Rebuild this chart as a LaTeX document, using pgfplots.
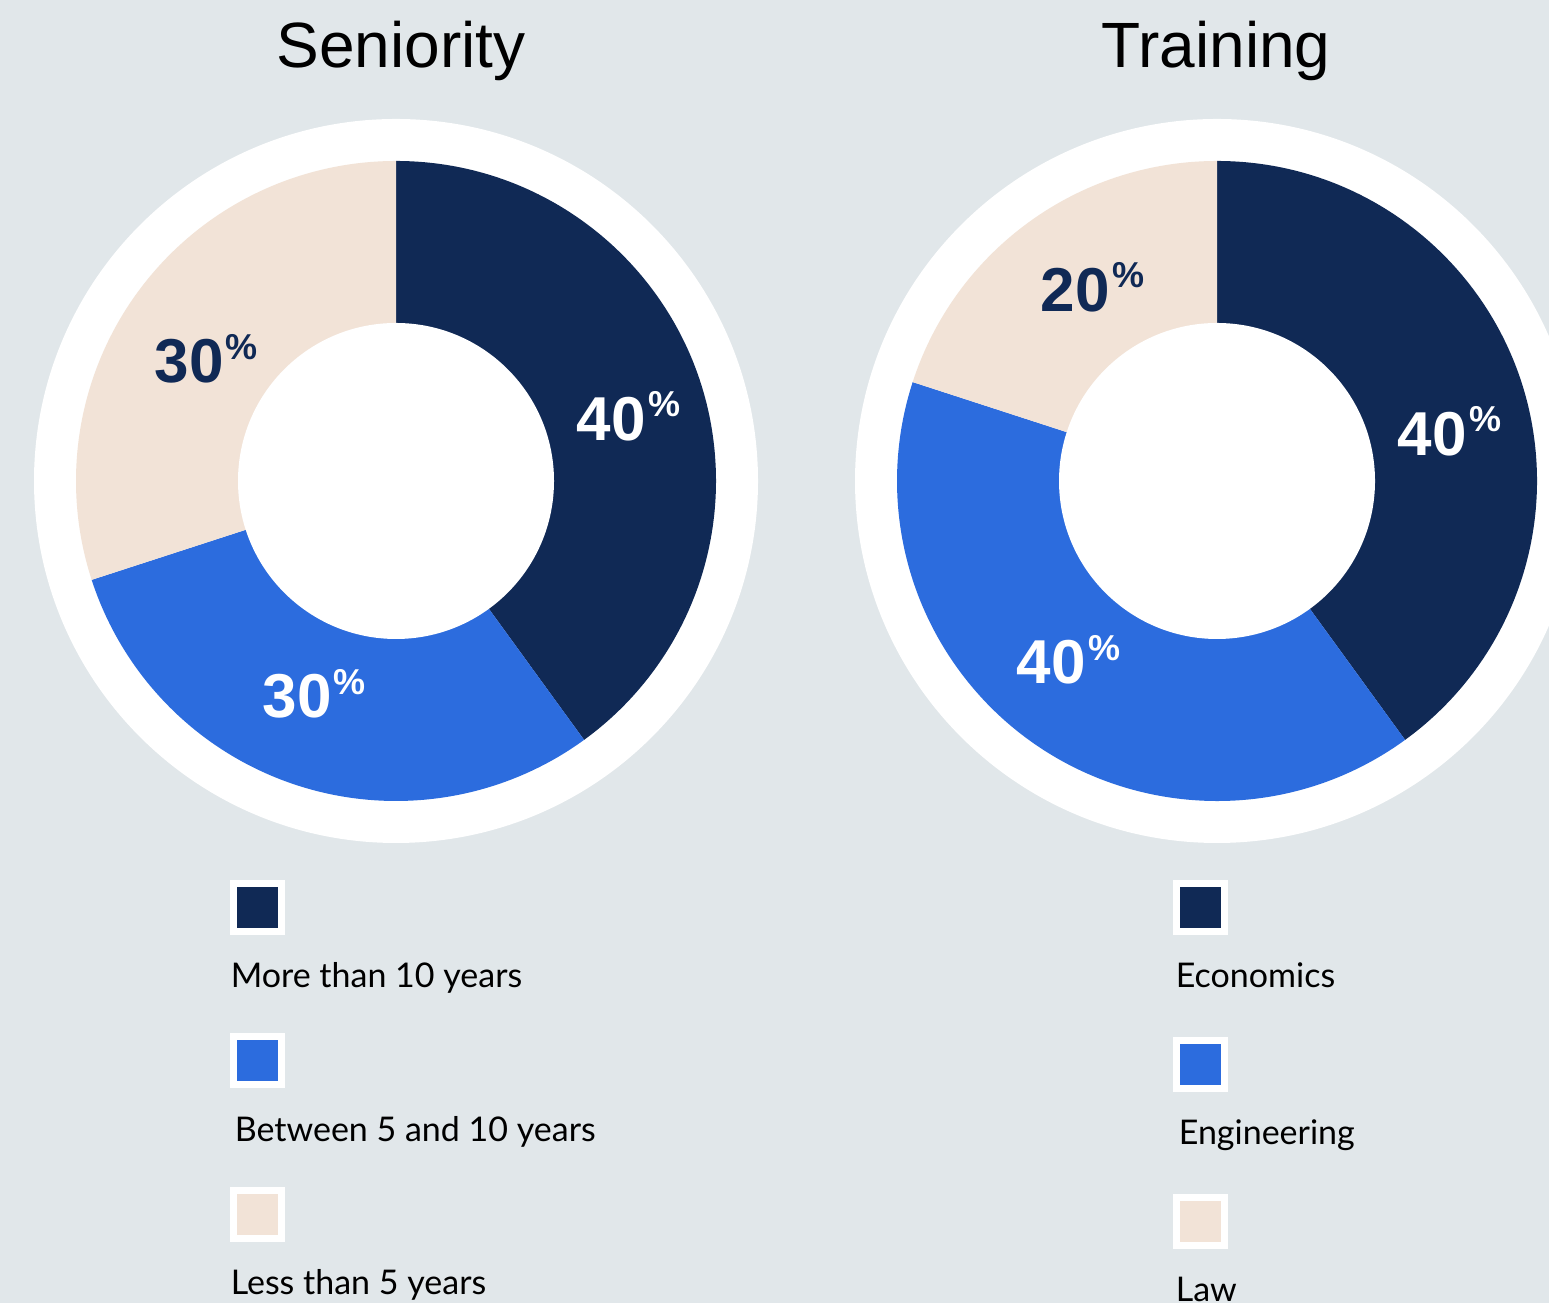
\documentclass[border=0pt]{standalone}
\usepackage{pgfplots}
\usepackage{pgfplotstable}
\pgfplotsset{compat=1.18}
\usepackage{fontspec}
\setmainfont{Liberation Sans}
\newfontfamily\legfont{Lato}
\definecolor{bg}{HTML}{E1E7EA}
\definecolor{navy}{HTML}{102955}
\definecolor{cblue}{HTML}{2C6CDE}
\definecolor{beige}{HTML}{F2E3D7}

% dx, dy: label nudges (px); tx: legend text nudge (px)
\pgfplotstableread[col sep=comma]{
label,value,fill,text,dx,dy,tx
More than 10 years,40,navy,white,12,7,0
Between 5 and 10 years,30,cblue,white,-10,-8,4
Less than 5 years,30,beige,navy,-2,14,0
}\seniority
\pgfplotstableread[col sep=comma]{
label,value,fill,text,dx,dy,tx
Economics,40,navy,white,12,22,2
Engineering,40,cblue,white,-12,-9,5
Law,20,beige,navy,12,-6,2
}\training

\newcommand\pct{\hspace{0.6pt}\raisebox{5.8pt}{\fontsize{9}{9}\selectfont\bfseries\%}}
\tikzset{lbl/.style={font=\fontsize{15.5}{16}\selectfont\bfseries, inner sep=0pt},
         leg/.style={font=\legfont\fontsize{8.5}{10}\selectfont, inner sep=0pt, anchor=base west, text=black}}

% #1 table, #2 cx, #3 cy (pixels, y downward), #4 legend x, #5 legend step
\newcommand\donut[5]{%
  \fill[white] (axis cs:#2,-#3) circle[radius=90.5pt];
  \def\ang{90}%
  \pgfplotstablegetrowsof{#1}\pgfmathtruncatemacro\nrows{\pgfplotsretval-1}%
  \pgfplotsforeachungrouped \i in {0,...,\nrows}{%
    \pgfplotstablegetelem{\i}{value}\of{#1}\let\val\pgfplotsretval
    \pgfplotstablegetelem{\i}{fill}\of{#1}\let\fc\pgfplotsretval
    \pgfplotstablegetelem{\i}{text}\of{#1}\let\tc\pgfplotsretval
    \pgfplotstablegetelem{\i}{label}\of{#1}\let\lab\pgfplotsretval
    \pgfplotstablegetelem{\i}{dx}\of{#1}\let\ldx\pgfplotsretval
    \pgfplotstablegetelem{\i}{dy}\of{#1}\let\ldy\pgfplotsretval
    \pgfplotstablegetelem{\i}{tx}\of{#1}\let\ltx\pgfplotsretval
    \pgfmathsetmacro\endang{\ang-3.6*\val}%
    \pgfmathsetmacro\midang{\ang-1.8*\val}%
    \pgfmathsetmacro\lcx{#2+\ldx}%
    \pgfmathsetmacro\lcy{#3+\ldy}%
    \pgfmathsetmacro\sqy{880+\i*#5}%
    \pgfmathsetmacro\sqiy{\sqy+7}%
    \pgfmathsetmacro\txy{\sqy+108}%
    \pgfmathsetmacro\lxi{#4+7}%
    \pgfmathsetmacro\txx{#4+\ltx}%
    \edef\cmd{%
      \noexpand\fill[\fc] (axis cs:#2,-#3) -- ++(\ang:80pt) arc[start angle=\ang, end angle=\endang, radius=80pt] -- cycle;
      \noexpand\path (axis cs:\lcx,-\lcy) ++(\midang:58pt) node[lbl, text=\tc] {\val\noexpand\pct};
      \noexpand\fill[white] (axis cs:#4,-\sqy) rectangle ++(13.75pt,-13.75pt);
      \noexpand\fill[\fc] (axis cs:\lxi,-\sqiy) rectangle ++(10.25pt,-10.25pt);
      \noexpand\node[leg] at (axis cs:\txx,-\txy) {\lab};
    }\cmd
    \let\ang\endang
  }%
  \fill[white] (axis cs:#2,-#3) circle[radius=39.5pt];
}

\begin{document}
\begin{tikzpicture}
\useasboundingbox (0,0) rectangle (387.25pt,325.75pt);
\clip (0,0) rectangle (387.25pt,325.75pt);
\fill[bg] (0,0) rectangle (387.25pt,325.75pt);
\begin{axis}[hide axis, scale only axis, width=387.25pt, height=325.75pt,
  xmin=0, xmax=1549, ymin=-1303, ymax=0, at={(0,0)}, anchor=south west, clip=false]
\donut{\seniority}{396}{481}{230}{153.5}
\donut{\training}{1217}{481}{1173}{157}
\node[font=\fontsize{16}{16}\selectfont, anchor=base] at (axis cs:401,-68) {Seniority};
\node[font=\fontsize{16}{16}\selectfont, anchor=base] at (axis cs:1216,-68) {Training};
\end{axis}
\end{tikzpicture}
\end{document}
